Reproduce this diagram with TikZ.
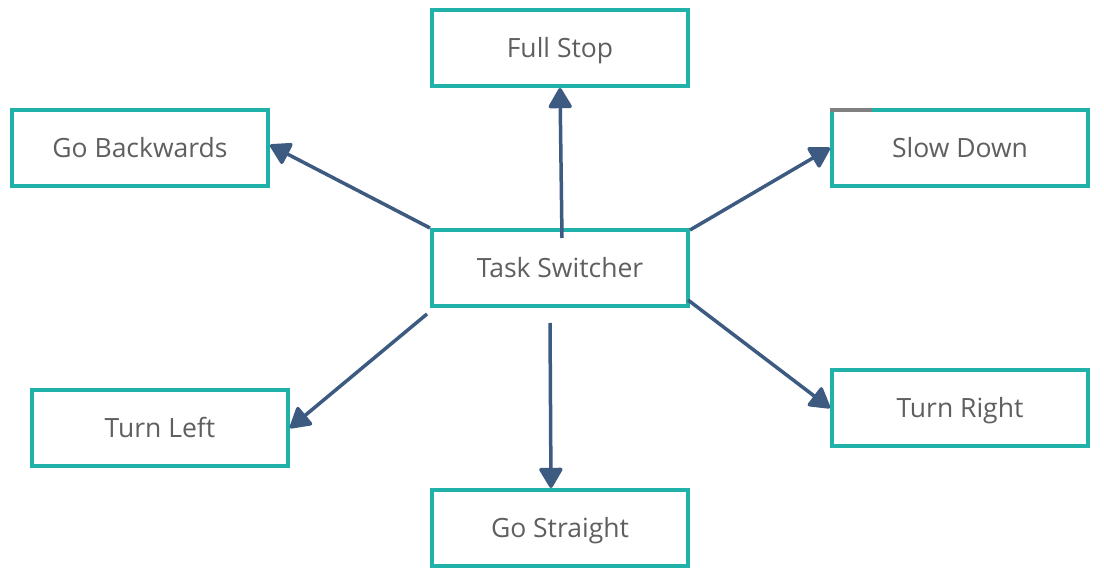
\documentclass[tikz,border=0pt]{standalone}
\usepackage{fontspec}
\setmainfont{Open Sans}
\usetikzlibrary{arrows.meta,calc}
\definecolor{teal1}{HTML}{20B2AA}
\definecolor{arrowc}{HTML}{3D5A80}
\definecolor{txt}{HTML}{5F5F5F}
\tikzset{
  box/.style={draw=teal1, line width=4pt, fill=white, minimum width=256pt, minimum height=76pt, inner sep=0pt, text height=19pt, text depth=0pt, font=\fontsize{26.5}{30}\selectfont, text=txt},
  conn/.style={draw=arrowc, line width=3.5pt, -{Triangle[width=25pt,length=22pt,line join=round]}},
}
\begin{document}
\begin{tikzpicture}[x=1pt,y=-1pt]
\useasboundingbox[fill=white] (0,0) rectangle (1104,580);
\node[box] (fs) at (560,48) {Full Stop};
\node[box] (gb) at (140,148) {Go Backwards};
\node[box] (sd) at (960,148) {Slow Down};
\node[box] (ts) at (560,268) {Task Switcher};
\node[box] (tl) at (160,428) {Turn Left};
\node[box] (tr) at (960,408) {Turn Right};
\node[box] (gs) at (560,528) {Go Straight};
\coordinate (gray1) at ($(sd.north west)+(0,2)$);
\coordinate (gray2) at ($(sd.north west)+(42,2)$);
\draw[line width=4pt, color=gray] (gray1) -- (gray2);
\draw[conn] ($(ts.north)+(2,10)$) -- (fs.south);
\draw[conn] (ts.north west) -- ($(gb.east)+(0,-3)$);
\draw[conn] ($(ts.north east)+(0,2)$) -- (sd.west);
\draw[conn] ($(ts.south west)+(-3,6)$) -- (tl.east);
\draw[conn] ($(ts.south)+(-10,15)$) -- ($(gs.north)+(-9,0)$);
\draw[conn] ($(ts.south east)+(-2,-8)$) -- (tr.west);
\end{tikzpicture}
\end{document}
